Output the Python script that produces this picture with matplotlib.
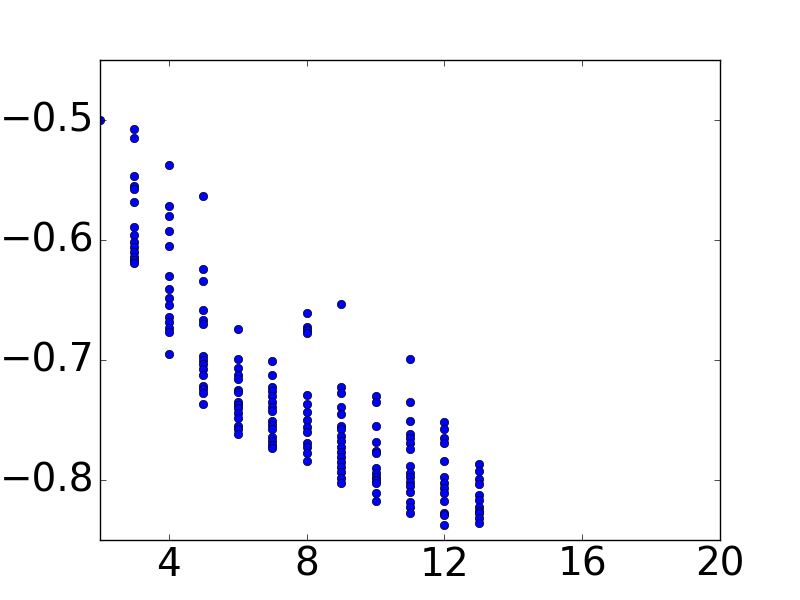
import matplotlib
matplotlib.use("Agg")
import matplotlib.pyplot as plt

plt.style.use("classic")

# values read per x column
y2 = [-0.5]
y3 = [-0.5075, -0.515, -0.547, -0.555, -0.5575, -0.568, -0.589, -0.596, -0.602,
      -0.606, -0.610, -0.614, -0.617, -0.619]
y4 = [-0.5375, -0.572, -0.580, -0.5925, -0.605, -0.630, -0.641, -0.6485, -0.654,
      -0.664, -0.668, -0.673, -0.6767, -0.695]
y5 = [-0.5633, -0.624, -0.634, -0.658, -0.667, -0.670, -0.6967, -0.700, -0.7033,
      -0.7075, -0.7125, -0.7217, -0.7242, -0.7275, -0.7367]
y6 = [-0.6742, -0.6992, -0.7067, -0.7125, -0.7158, -0.725, -0.7267, -0.735, -0.7375,
      -0.740, -0.7442, -0.7483, -0.755, -0.7575, -0.7617]
y7 = [-0.7008, -0.7125, -0.7225, -0.7258, -0.730, -0.735, -0.7392, -0.7425, -0.7508,
      -0.7542, -0.7575, -0.7642, -0.7675, -0.7708, -0.7733]
y8 = [-0.6608, -0.6725, -0.675, -0.6775, -0.729, -0.7367, -0.7433, -0.750, -0.7558,
      -0.760, -0.7692, -0.7725, -0.7775, -0.7842]
y9 = [-0.6533, -0.7225, -0.7275, -0.7392, -0.745, -0.755, -0.7575, -0.7633, -0.7675,
      -0.7725, -0.7767, -0.7808, -0.785, -0.7892, -0.7933, -0.7983, -0.8025]
y10 = [-0.730, -0.735, -0.755, -0.7683, -0.7758, -0.7775, -0.790, -0.7942, -0.7975,
       -0.800, -0.8025, -0.8108, -0.8175]
y11 = [-0.6992, -0.735, -0.7508, -0.7617, -0.765, -0.7692, -0.7742, -0.7883, -0.7942,
       -0.7975, -0.8017, -0.805, -0.810, -0.8183, -0.8225, -0.8275]
y12 = [-0.7517, -0.7575, -0.765, -0.7692, -0.7842, -0.7975, -0.8025, -0.8067, -0.8108,
       -0.8175, -0.8275, -0.8292, -0.8375]
y13 = [-0.7867, -0.7925, -0.7992, -0.8033, -0.8125, -0.8167, -0.8225, -0.8258, -0.8275,
       -0.8317, -0.8358]

columns = {2: y2, 3: y3, 4: y4, 5: y5, 6: y6, 7: y7, 8: y8, 9: y9,
           10: y10, 11: y11, 12: y12, 13: y13}

xs = []
ys = []
for k, vals in columns.items():
    xs.extend([k] * len(vals))
    ys.extend(vals)

xticks = [4, 8, 12, 16, 20]
yticks = [-0.8, -0.7, -0.6, -0.5]

fig = plt.figure(figsize=(8, 6))
ax = fig.add_subplot(111)
ax.plot(xs, ys, 'o', color='b', markeredgecolor='k', markersize=6)
ax.set_xlim(2, 20)
ax.set_ylim(-0.85, -0.45)
ax.set_xticks(xticks)
ax.set_yticks(yticks)
ax.tick_params(labelsize=28)
fig.savefig("out.png", dpi=100)
